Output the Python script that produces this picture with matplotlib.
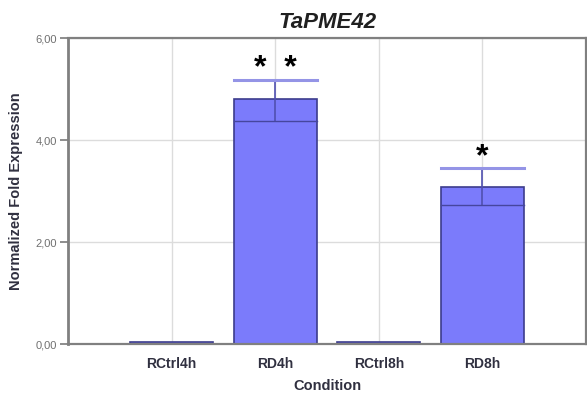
import matplotlib
matplotlib.use("Agg")
import matplotlib.pyplot as plt
import numpy as np

# Expression data
categories = ["RCtrl4h", "RD4h", "RCtrl8h", "RD8h"]
means = [0.04, 4.80, 0.04, 3.08]
err_low = [0.0, 0.43, 0.0, 0.35]
err_high = [0.0, 0.38, 0.0, 0.37]
significance = ["", "*  *", "", "*"]
y_ticks = [0, 2, 4, 6]

plt.rcParams["font.family"] = ["Liberation Sans", "DejaVu Sans"]

fig = plt.figure(figsize=(5.87, 3.96), dpi=100)
ax = fig.add_axes([0.1158, 0.1313, 0.8825, 0.7727])

x = np.arange(len(categories))
bar_w = 0.8
fill = "#7b7bfb"
edge = "#3c3c8c"

ax.set_axisbelow(True)
ax.grid(True, color="#dcdcdc", linewidth=1)
bars = ax.bar(x, means, width=bar_w, color=fill, edgecolor=edge, linewidth=1.2, zorder=2)

for xi, m, lo, hi, sig in zip(x, means, err_low, err_high, significance):
    if lo == 0 and hi == 0:
        continue
    ax.plot([xi, xi], [m - lo, m + hi], color="#5050b0", linewidth=1.2, zorder=3)
    ax.plot([xi - bar_w / 2, xi + bar_w / 2], [m - lo, m - lo], color="#46469e", linewidth=1.0, zorder=3)
    ax.plot([xi - bar_w / 2, xi + bar_w / 2], [m + hi, m + hi], color="#9494e6", linewidth=2.2, zorder=3)
    ax.text(xi, m + hi + 0.22, sig, ha="center", va="center", fontsize=23,
            fontweight="bold", color="black")

ax.set_xlim(-1, 4)
ax.set_ylim(0, 6)
ax.set_yticks(y_ticks)
ax.set_yticklabels([f"{v:.2f}".replace(".", ",") for v in y_ticks], fontsize=8, color="#707070")
ax.set_xticks(x)
ax.set_xticklabels(categories, fontsize=10, fontweight="bold", color="#303040")
ax.tick_params(axis="x", length=0, pad=9)
ax.tick_params(axis="y", length=6, width=1.2, color="#7a7a7a", pad=2)

for side, lw in [("left", 2.0), ("bottom", 1.6), ("top", 1.6), ("right", 1.6)]:
    ax.spines[side].set_color("#808080")
    ax.spines[side].set_linewidth(lw)

ax.set_xlabel("Condition", fontsize=10.5, fontweight="bold", color="#303040", labelpad=6)
ax.set_ylabel("Normalized Fold Expression", fontsize=10.5, fontweight="bold", color="#303040", labelpad=9)
ax.set_title("TaPME42", fontsize=16, fontweight="bold", style="italic", color="#202020", pad=7)

fig.savefig("out.png", dpi=100)
